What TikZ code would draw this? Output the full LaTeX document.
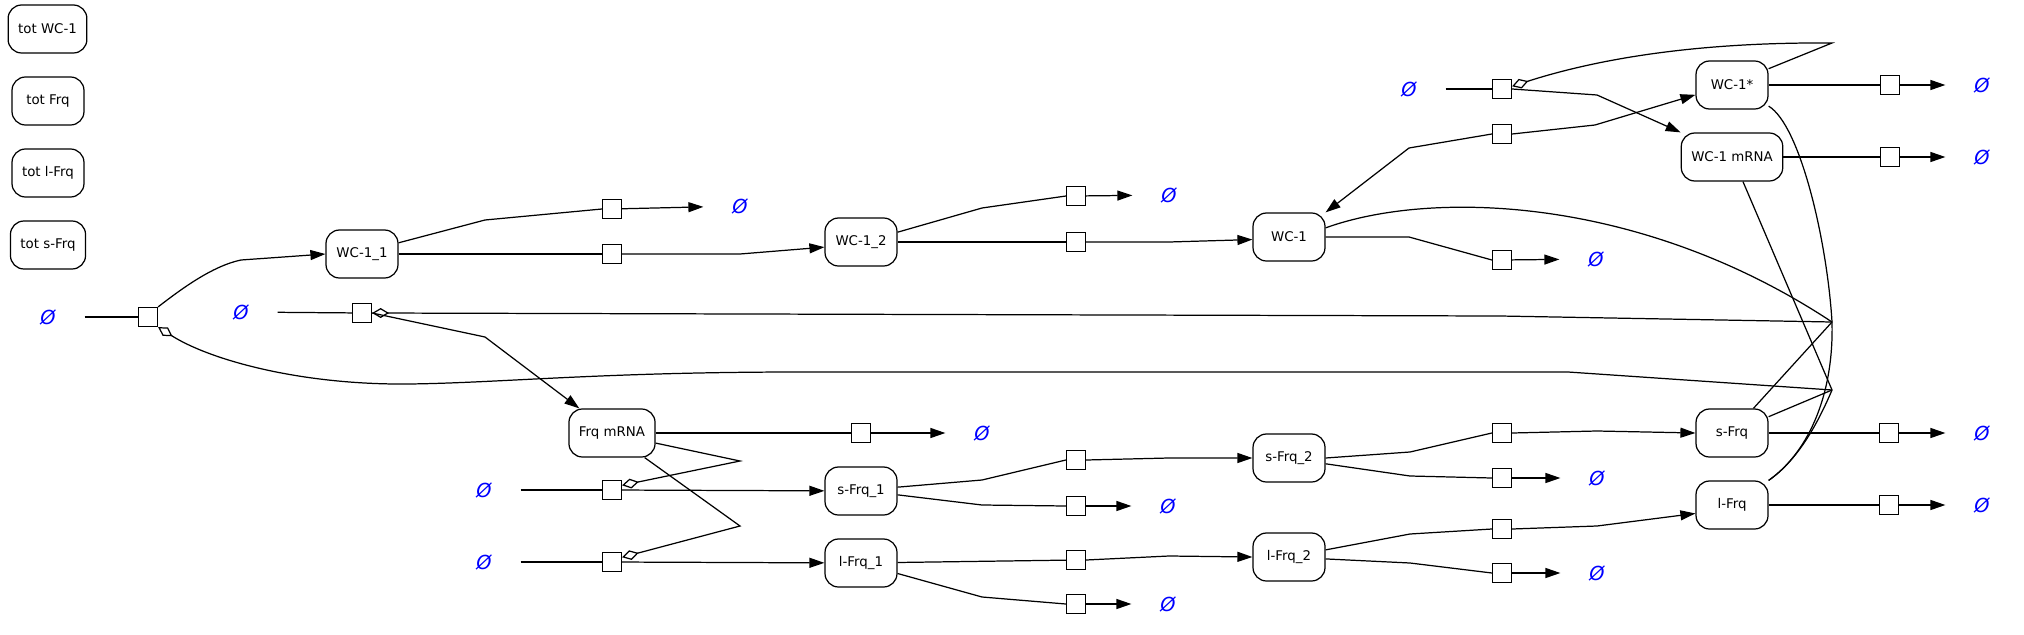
\documentclass[tikz,border=0pt]{standalone}
\usepackage{fontspec}
\setmainfont{DejaVu Sans}
\usetikzlibrary{arrows.meta}
\definecolor{emp}{RGB}{0, 0, 255}

\begin{document}
\begin{tikzpicture}[x=0.02cm, y=-0.02cm, line width=0.7pt,
    spec/.style={draw, rounded corners=0.27cm, minimum width=1.44cm, minimum height=0.96cm, inner xsep=0.2cm, font=\fontsize{7.6}{9}\selectfont},
    rxn/.style={draw, fill=white, minimum size=0.38cm, inner sep=0pt},
    void/.style={minimum width=1.44cm, minimum height=0.5cm, inner sep=0pt, text=emp, font=\fontsize{11}{13}\selectfont\itshape},
    prod/.style={-{Triangle[length=0.3cm, width=0.2cm]}},
    modif/.style={{Diamond[open, length=0.34cm, width=0.2cm]}-}]
      \useasboundingbox (0, 0) rectangle (2024, 635);
      \node[spec](totW) at (47.5, 29) {tot WC-1};
      \node[spec](totF) at (48, 101) {tot Frq};
      \node[spec](totL) at (48, 173) {tot l-Frq};
      \node[spec](totS) at (48, 245) {tot s-Frq};
      \node[spec](w11) at (362, 254) {WC-1\_1};
      \node[spec](w12) at (861, 242) {WC-1\_2};
      \node[spec](w1) at (1289, 237) {WC-1};
      \node[spec](w1s) at (1732, 85) {WC-1*};
      \node[spec](w1m) at (1732, 157) {WC-1 mRNA};
      \node[spec](fm) at (612, 433) {Frq mRNA};
      \node[spec](sf1) at (861, 491) {s-Frq\_1};
      \node[spec](lf1) at (861, 563) {l-Frq\_1};
      \node[spec](sf2) at (1289, 458) {s-Frq\_2};
      \node[spec](lf2) at (1289, 557) {l-Frq\_2};
      \node[spec](sf) at (1732, 433) {s-Frq};
      \node[spec](lf) at (1732, 505) {l-Frq};
      \node[void](v1) at (48, 317) {Ø};
      \node[void](v2) at (241, 312) {Ø};
      \node[void](v3) at (740, 206) {Ø};
      \node[void](v4) at (1169, 195) {Ø};
      \node[void](v5) at (1596, 259) {Ø};
      \node[void](v6) at (1409, 89) {Ø};
      \node[void](v7) at (1982, 85) {Ø};
      \node[void](v8) at (1982, 157) {Ø};
      \node[void](v9) at (982, 433) {Ø};
      \node[void](v10) at (484, 490) {Ø};
      \node[void](v11) at (484, 562) {Ø};
      \node[void](v12) at (1168, 506) {Ø};
      \node[void](v13) at (1168, 604) {Ø};
      \node[void](v14) at (1597, 478) {Ø};
      \node[void](v15) at (1597, 573) {Ø};
      \node[void](v16) at (1982, 433) {Ø};
      \node[void](v17) at (1982, 505) {Ø};
      \node[rxn](r1) at (148, 317) {};
      \node[rxn](r2) at (362, 313) {};
      \node[rxn](r3) at (612, 209) {};
      \node[rxn](r4) at (612, 254) {};
      \node[rxn](r5) at (1076, 196) {};
      \node[rxn](r6) at (1076, 242) {};
      \node[rxn](r7) at (1502, 260) {};
      \node[rxn](r8) at (1502, 89) {};
      \node[rxn](r9) at (1502, 134) {};
      \node[rxn](r10) at (1890, 85) {};
      \node[rxn](r11) at (1890, 157) {};
      \node[rxn](r12) at (861, 433) {};
      \node[rxn](r13) at (612, 490) {};
      \node[rxn](r14) at (612, 562) {};
      \node[rxn](r15) at (1076, 460) {};
      \node[rxn](r16) at (1076, 506) {};
      \node[rxn](r17) at (1076, 560) {};
      \node[rxn](r18) at (1076, 604) {};
      \node[rxn](r19) at (1502, 433) {};
      \node[rxn](r20) at (1502, 478) {};
      \node[rxn](r21) at (1502, 529) {};
      \node[rxn](r22) at (1502, 573) {};
      \node[rxn](r23) at (1889, 433) {};
      \node[rxn](r24) at (1889, 505) {};
      \coordinate (J0) at (1832, 43);
      \coordinate (J1) at (1832, 322);
      \coordinate (J2) at (1832, 390);
      \coordinate (Ja) at (740, 461);
      \coordinate (Jb) at (740, 526);
      \draw (v1) -- (r1);
      \draw[prod] (r1.north east) .. controls (180, 290) and (212, 266) .. (241, 260) -- (w11.west);
      \draw[modif] (r1.south east) .. controls (210, 360) and (300, 385) .. (408, 384) .. controls (500, 383) and (600, 372) .. (800, 372) -- (1568, 372) -- (J2);
      \draw (v2) -- (r2);
      \draw[prod] (r2.east) -- (485, 337) -- (fm.143);
      \draw[modif] (r2.east) -- (1500, 316) -- (J1);
      \draw (w11.17) -- (485, 220) -- (r3.west);
      \draw[prod] (r3) -- (v3);
      \draw (w11) -- (r4);
      \draw[prod] (r4.east) -- (740, 254) -- (w12.188);
      \draw (w12.15) -- (982, 208) -- (r5.west);
      \draw[prod] (r5) -- (v4);
      \draw (w12) -- (r6);
      \draw[prod] (r6.east) -- (1169, 242) -- (w1.184);
      \draw (w1.east) -- (1409, 237) -- (r7.west);
      \draw[prod] (r7) -- (v5);
      \draw (w1.14) .. controls (1430, 190) and (1640, 195) .. (J1);
      \draw (v6) -- (r8);
      \draw[prod] (r8.east) -- (1597, 95) -- (w1m.north west);
      \draw[modif] (r8.15) .. controls (1600, 58) and (1700, 42) .. (J0) -- (w1s.24);
      \draw[prod] (r9.west) -- (1409, 148) -- (w1.north east);
      \draw[prod] (r9.east) -- (1595, 125) -- (w1s.195);
      \draw (w1s) -- (r10);
      \draw[prod] (r10) -- (v7);
      \draw (w1m) -- (r11);
      \draw[prod] (r11) -- (v8);
      \draw (w1s.-30) .. controls (1800, 125) and (1827, 240) .. (J1);
      \draw (J1) .. controls (1834, 400) and (1805, 455) .. (lf.north east);
      \draw (J2) .. controls (1815, 430) and (1795, 462) .. (lf.north east);
      \draw (sf.49) -- (J1);
      \draw (sf.24) -- (J2);
      \draw (w1m.-66) -- (J2);
      \draw (fm) -- (r12);
      \draw[prod] (r12) -- (v9);
      \draw[modif] (r13.25) -- (Ja) -- (fm.-13);
      \draw[modif] (r14.25) -- (Jb) -- (fm.-37);
      \draw (v10) -- (r13);
      \draw[prod] (r13) -- (sf1);
      \draw (v11) -- (r14);
      \draw[prod] (r14) -- (lf1);
      \draw (sf1.6) -- (982, 480) -- (r15.west);
      \draw[prod] (r15.east) -- (1169, 458) -- (sf2.west);
      \draw (sf1.-6) -- (982, 505) -- (r16.west);
      \draw[prod] (r16) -- (v12);
      \draw (lf1) -- (r17);
      \draw[prod] (r17.east) -- (1169, 556) -- (lf2.west);
      \draw (lf1.-16) -- (982, 597) -- (r18.west);
      \draw[prod] (r18) -- (v13);
      \draw (sf2.east) -- (1410, 452) -- (r19.west);
      \draw[prod] (r19.east) -- (1597, 431) -- (sf.west);
      \draw (sf2.-9) -- (1410, 476) -- (r20.west);
      \draw[prod] (r20) -- (v14);
      \draw (lf2.11) -- (1410, 534) -- (r21.west);
      \draw[prod] (r21.east) -- (1597, 526) -- (lf.193);
      \draw (lf2.-3) -- (1410, 563) -- (r22.west);
      \draw[prod] (r22) -- (v15);
      \draw (sf) -- (r23);
      \draw[prod] (r23) -- (v16);
      \draw (lf) -- (r24);
      \draw[prod] (r24) -- (v17);
    \end{tikzpicture}
\end{document}
